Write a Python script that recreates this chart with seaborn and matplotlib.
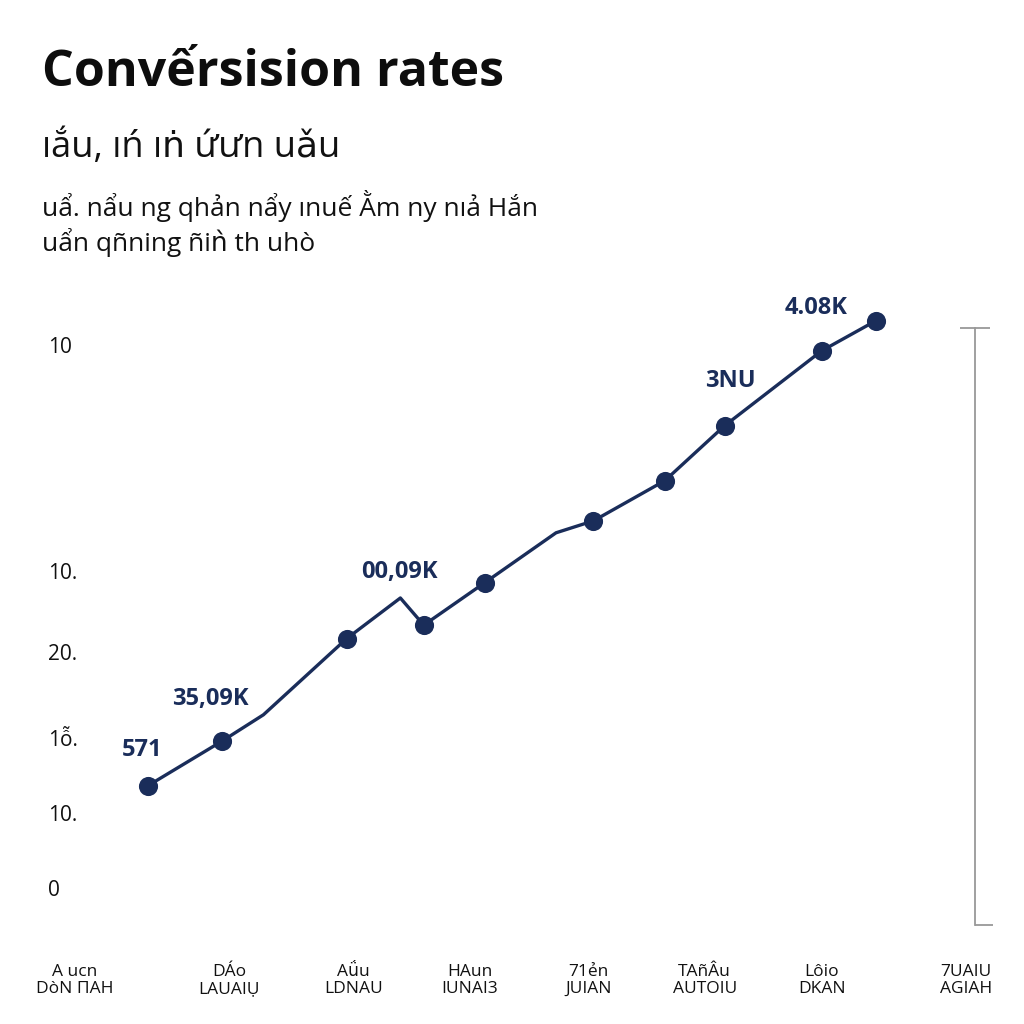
import matplotlib
matplotlib.use("Agg")
import matplotlib.pyplot as plt
import seaborn as sns
import pandas as pd

sns.set_theme(style="white")
plt.rcParams["font.family"] = ["Open Sans", "DejaVu Sans"]

NAVY = "#1a2d5a"

# line path (x in category units, y in chart units)
line_x = [0.62, 1.26, 1.61, 2.32, 2.78, 2.98, 3.50, 4.11, 4.43, 5.04, 5.55, 6.38, 6.84]
line_y = [18.8, 27.1, 31.9, 45.9, 53.4, 48.4, 56.2, 65.4, 67.6, 75.0, 85.1, 98.9, 104.4]
marker_idx = [0, 1, 3, 5, 6, 8, 9, 10, 11, 12]

point_labels = {0: "571", 1: "35,09K", 4: "00,09K", 10: "3NU", 11: "4.08K"}
label_offsets = {0: (-4, 26), 1: (-9, 30), 4: (-1, 19), 10: (4, 32), 11: (-4, 31)}

categories = ["A ucn\nDòN ΠΑΗ", "DÁo\nLAUAIỤ", "Aǘu\nLDNAU", "HAun\nIUNAI3",
              "71ẻn\nJUIAN", "TAñÂu\nAUTOIU", "Lôio\nDKAN", "7UAIU\nAGIAH"]
cat_pos = [0, 1.32, 2.38, 3.37, 4.39, 5.38, 6.38, 7.61]

ytick_vals = [0, 13.8, 27.6, 43.5, 58.4, 100]
ytick_labels = ["0", "10.", "1ỗ.", "20.", "10.", "10"]

title = "Convếrsision rates"
subtitle = "ıắu, ıń ıṅ ứưn uǎu"
note = "uẩ. nẩu ng qhản nẩy ınuế Ằm ny nıả Hắn\nuẩn qñning ñiǹ th uhò"

df = pd.DataFrame({"x": line_x, "y": line_y})
dm = df.iloc[marker_idx]

fig = plt.figure(figsize=(10.24, 10.24), dpi=100)
ax = fig.add_axes([71.5 / 1024, 99 / 1024, (975 - 71.5) / 1024, (925 - 328) / 1024])

sns.lineplot(data=df, x="x", y="y", sort=False, estimator=None, color=NAVY,
             linewidth=2.4, ax=ax, clip_on=False)
sns.scatterplot(data=dm, x="x", y="y", color=NAVY, s=190, edgecolor=NAVY,
                linewidth=0, ax=ax, clip_on=False, zorder=3)

for i, txt in point_labels.items():
    dx, dy = label_offsets[i]
    ax.annotate(txt, (line_x[i], line_y[i]), xytext=(dx, dy), textcoords="offset points",
                ha="center", va="center", fontsize=17, fontweight="bold", color=NAVY)

ax.set_xlim(-0.03, 7.69)
ax.set_ylim(-6.8, 103.1)
ax.set_xticks(cat_pos)
ax.set_xticklabels(categories, fontsize=12.5, linespacing=1.1, color="#111111")
ax.set_yticks(ytick_vals)
ax.set_yticklabels(ytick_labels, fontsize=15, color="#111111")
for lab in ax.get_yticklabels():
    lab.set_horizontalalignment("left")
ax.tick_params(axis="y", length=0, pad=17)
ax.tick_params(axis="x", length=0, pad=28)
ax.set_xlabel("")
ax.set_ylabel("")

for side in ["top", "left", "bottom"]:
    ax.spines[side].set_visible(False)
ax.spines["right"].set_color("#999999")
ax.spines["right"].set_linewidth(1.3)

# caps on the right rule
ax2 = ax.twinx()
ax2.set_ylim(ax.get_ylim())
for side in ["top", "left", "bottom", "right"]:
    ax2.spines[side].set_visible(False)
ax2.set_yticks([103.1])
ax2.set_yticks([-6.8], minor=True)
ax2.set_yticklabels([])
ax2.tick_params(axis="y", which="major", direction="inout", length=22, width=1.3, color="#999999")
ax2.tick_params(axis="y", which="minor", direction="out", length=13, width=1.3, color="#999999")
ax2.grid(False)

fig.text(42 / 1024, 1 - 86 / 1024, title, fontsize=36, fontweight="bold", color="#0d0d0d")
fig.text(42 / 1024, 1 - 157 / 1024, subtitle, fontsize=26, color="#111111")
fig.text(42 / 1024, 1 - 251 / 1024, note, fontsize=19, color="#111111", linespacing=1.25)

fig.savefig("out.png", dpi=100)
